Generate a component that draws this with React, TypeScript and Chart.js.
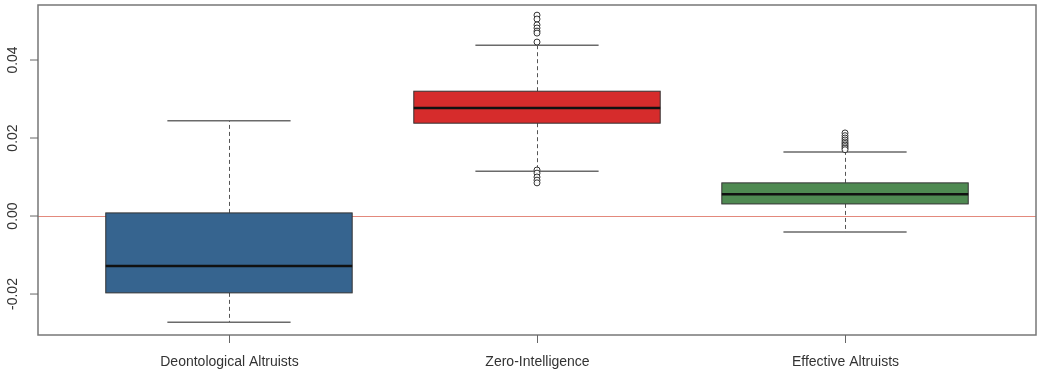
import React, { useEffect, useRef } from "react";
import { Chart, registerables } from "chart.js";

Chart.register(...registerables);

const categories = ["Deontological Altruists", "Zero-Intelligence", "Effective Altruists"];
const boxColors = ["#36648f", "#d62c2c", "#4f8a52"];
const lowerWhisker = [-0.0272, 0.0115, -0.0041];
const q1 = [-0.0197, 0.0238, 0.0031];
const median = [-0.0128, 0.0277, 0.0056];
const q3 = [0.0008, 0.032, 0.0085];
const upperWhisker = [0.0244, 0.0438, 0.0164];
const outliersZero = [0.0515, 0.0505, 0.049, 0.0482, 0.0474, 0.0469, 0.0446, 0.0118, 0.011, 0.01, 0.0092, 0.0085];
const outliersEffective = [0.0213, 0.0206, 0.02, 0.0195, 0.019, 0.0186, 0.0182, 0.0178, 0.0174, 0.017];
const yTicks = [-0.02, 0.0, 0.02, 0.04];
const yTickLabels = ["-0.02", "0.00", "0.02", "0.04"];
const refLineValue = 0;

const boxPlugin = {
  id: "boxPlugin",
  beforeDatasetsDraw(chart: any) {
    const { ctx, chartArea, scales } = chart;
    const xs = scales.x;
    const ys = scales.y;
    ctx.save();
    const y0 = ys.getPixelForValue(refLineValue);
    ctx.strokeStyle = "#e3897c";
    ctx.lineWidth = 1;
    ctx.beginPath();
    ctx.moveTo(chartArea.left, y0 + 0.5);
    ctx.lineTo(chartArea.right, y0 + 0.5);
    ctx.stroke();

    categories.forEach((_, i) => {
      const pos = i + 1;
      const xc = Math.round(xs.getPixelForValue(pos)) + 0.5;
      const xl = xs.getPixelForValue(pos - 0.4);
      const xr = xs.getPixelForValue(pos + 0.4);
      const cl = xs.getPixelForValue(pos - 0.2);
      const cr = xs.getPixelForValue(pos + 0.2);
      const yLo = ys.getPixelForValue(lowerWhisker[i]);
      const yQ1 = ys.getPixelForValue(q1[i]);
      const yMed = ys.getPixelForValue(median[i]);
      const yQ3 = ys.getPixelForValue(q3[i]);
      const yHi = ys.getPixelForValue(upperWhisker[i]);

      ctx.strokeStyle = "#555";
      ctx.lineWidth = 1;
      ctx.setLineDash([4, 3]);
      ctx.beginPath();
      ctx.moveTo(xc, yQ3);
      ctx.lineTo(xc, yHi);
      ctx.moveTo(xc, yQ1);
      ctx.lineTo(xc, yLo);
      ctx.stroke();
      ctx.setLineDash([]);

      ctx.strokeStyle = "#6a6a6a";
      ctx.lineWidth = 1.5;
      ctx.beginPath();
      ctx.moveTo(cl, yHi);
      ctx.lineTo(cr, yHi);
      ctx.moveTo(cl, yLo);
      ctx.lineTo(cr, yLo);
      ctx.stroke();

      ctx.fillStyle = boxColors[i];
      ctx.fillRect(xl, yQ3, xr - xl, yQ1 - yQ3);
      ctx.strokeStyle = "#333";
      ctx.lineWidth = 1;
      ctx.strokeRect(xl, yQ3, xr - xl, yQ1 - yQ3);

      ctx.strokeStyle = "#111";
      ctx.lineWidth = 2.5;
      ctx.beginPath();
      ctx.moveTo(xl, yMed);
      ctx.lineTo(xr, yMed);
      ctx.stroke();
    });
    ctx.restore();
  },
  afterDraw(chart: any) {
    const { ctx, chartArea, scales } = chart;
    const xs = scales.x;
    const ys = scales.y;
    ctx.save();
    ctx.strokeStyle = "#777";
    ctx.lineWidth = 1.5;
    ctx.strokeRect(chartArea.left, chartArea.top, chartArea.right - chartArea.left, chartArea.bottom - chartArea.top);

    ctx.fillStyle = "#333";
    ctx.font = "14px 'Liberation Sans', Arial, sans-serif";
    ctx.textAlign = "center";
    ctx.textBaseline = "middle";
    yTicks.forEach((v, i) => {
      const y = ys.getPixelForValue(v);
      ctx.strokeStyle = "#666";
      ctx.lineWidth = 1;
      ctx.beginPath();
      ctx.moveTo(chartArea.left - 8, y);
      ctx.lineTo(chartArea.left, y);
      ctx.stroke();
      ctx.save();
      ctx.translate(13, y);
      ctx.rotate(-Math.PI / 2);
      ctx.fillText(yTickLabels[i], 0, 0);
      ctx.restore();
    });

    ctx.font = "14px 'Liberation Sans', Arial, sans-serif";
    categories.forEach((c, i) => {
      const x = Math.round(xs.getPixelForValue(i + 1)) + 0.5;
      ctx.strokeStyle = "#666";
      ctx.lineWidth = 1;
      ctx.beginPath();
      ctx.moveTo(x, chartArea.bottom);
      ctx.lineTo(x, chartArea.bottom + 8);
      ctx.stroke();
      ctx.fillText(c, x, chartArea.bottom + 27);
    });
    ctx.restore();
  },
};

export default function App() {
  const ref = useRef<HTMLCanvasElement>(null);
  useEffect(() => {
    document.body.style.margin = "0";
    const outlierData = [
      ...outliersZero.map((v) => ({ x: 2, y: v })),
      ...outliersEffective.map((v) => ({ x: 3, y: v })),
    ];
    const chart = new Chart(ref.current as HTMLCanvasElement, {
      type: "scatter",
      data: {
        datasets: [
          {
            data: outlierData,
            pointStyle: "circle",
            pointRadius: 3,
            pointBorderWidth: 1,
            borderColor: "#333",
            backgroundColor: "rgba(255,255,255,0.9)",
          },
        ],
      },
      options: {
        animation: false,
        responsive: false,
        events: [],
        layout: { autoPadding: false, padding: { left: 38, top: 5, right: 1, bottom: 40 } },
        plugins: { legend: { display: false }, tooltip: { enabled: false } },
        scales: {
          x: { type: "linear", min: 0.38, max: 3.62, display: false },
          y: { type: "linear", min: -0.0305, max: 0.0541, display: false },
        },
      },
      plugins: [boxPlugin],
    });
    return () => chart.destroy();
  }, []);
  return <canvas ref={ref} width={1037} height={375} style={{ display: "block" }} />;
}
